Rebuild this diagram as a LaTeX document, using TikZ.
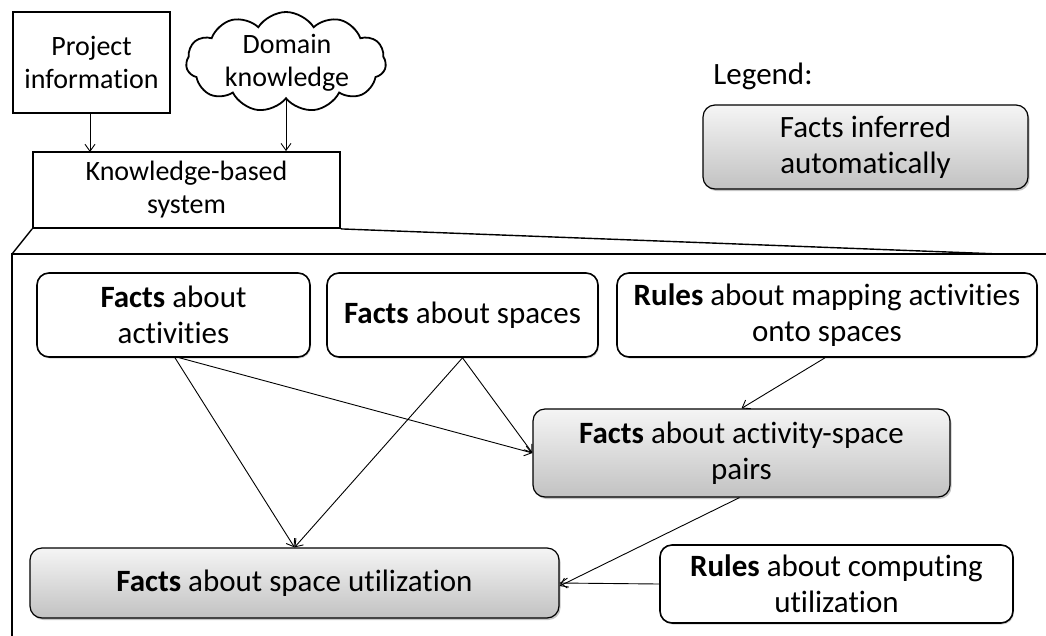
\documentclass[tikz,border=0pt]{standalone}
\usepackage{fontspec}
\setmainfont[Ligatures=NoCommon]{Carlito}
\usetikzlibrary{arrows.meta,shapes.symbols,shadows,calc}

\begin{document}
\begin{tikzpicture}[x=1pt,y=-1pt,
  every node/.style={font=\fontsize{31}{36}\selectfont, align=center, inner sep=0pt},
  smalltext/.style={font=\fontsize{28}{33}\selectfont},
  plainbox/.style={draw, line width=1.8pt, rectangle, smalltext},
  rulebox/.style={draw, line width=1.6pt, rounded corners=12pt, fill=white,
    drop shadow={shadow xshift=1pt, shadow yshift=-1.5pt, opacity=0.35}},
  inferbox/.style={draw, line width=1.2pt, rounded corners=12pt,
    top color=black!4, bottom color=black!24,
    drop shadow={shadow xshift=1.5pt, shadow yshift=-2pt, opacity=0.45}},
  arr/.style={line width=0.9pt, -{Straight Barb[length=7pt,width=10pt]}},
  zoomline/.style={line width=1.4pt},
  frameline/.style={line width=2pt}]

\clip (0,0) rectangle (1046,635);

% Inputs and the knowledge-based system
\node[plainbox, minimum width=157, minimum height=101] (proj) at (91.5,62.5) {Project\\information};
\node[draw, cloud, cloud puffs=11, cloud puff arc=115, line width=1.8pt,
      minimum width=200, minimum height=100] (dom) at (286,62) {};
\node[smalltext] (domtxt) at (287,63) {Domain\\knowledge};
\node[plainbox, minimum width=307, minimum height=76] (kbs) at (186.5,190) {Knowledge-based\\system};

\draw[arr] (proj.south -| 90,0) -- (90,152);
\draw[arr] (dom.south) -- (dom.south |- kbs.north);

% Legend
\node (legtxt) at (763,76) {Legend:};
\node[inferbox, minimum width=325, minimum height=84] (leg) at (865.5,147) {Facts inferred\\automatically};

% Expanded view of the system
\coordinate (ftl) at (12,254);
\coordinate (ftr) at (1000,254);
\coordinate (fright) at (1100,254);
\coordinate (fbottom) at (12,660);
\draw[frameline] (fright) -- (ftl) -- (fbottom);
\draw[zoomline] (kbs.south west) -- (ftl);
\draw[zoomline] (kbs.south east) -- (ftr);

\node[rulebox, minimum width=273, minimum height=84] (act) at (173.5,315) {\textbf{Facts} about\\activities};
\node[rulebox, minimum width=271, minimum height=84] (spc) at (462.5,315) {\textbf{Facts} about spaces};
\node[rulebox, minimum width=420, minimum height=84] (rmap) at (827,315) {\textbf{Rules} about mapping activities\\onto spaces};
\node[inferbox, minimum width=417, minimum height=88] (pairs) at (741.5,453) {\textbf{Facts} about activity-space\\pairs};
\node[inferbox, minimum width=529, minimum height=70] (util) at (294.5,583) {\textbf{Facts} about space utilization};
\node[rulebox, minimum width=353, minimum height=78] (rcomp) at (836.5,584) {\textbf{Rules} about computing\\utilization};

% Inference connections
\draw[arr] ([xshift=1.5]act.south) -- (util.north);
\draw[arr] ([xshift=6]act.south) -- (pairs.west);
\draw[arr] (spc.south) -- (util.north);
\draw[arr] (spc.south) -- (pairs.west);
\draw[arr] ([xshift=-2]rmap.south) -- (pairs.north);
\draw[arr] ([xshift=-2]pairs.south) -- ([yshift=-3]util.east);
\draw[arr] (rcomp.west) -- (util.east);

\end{tikzpicture}
\end{document}
